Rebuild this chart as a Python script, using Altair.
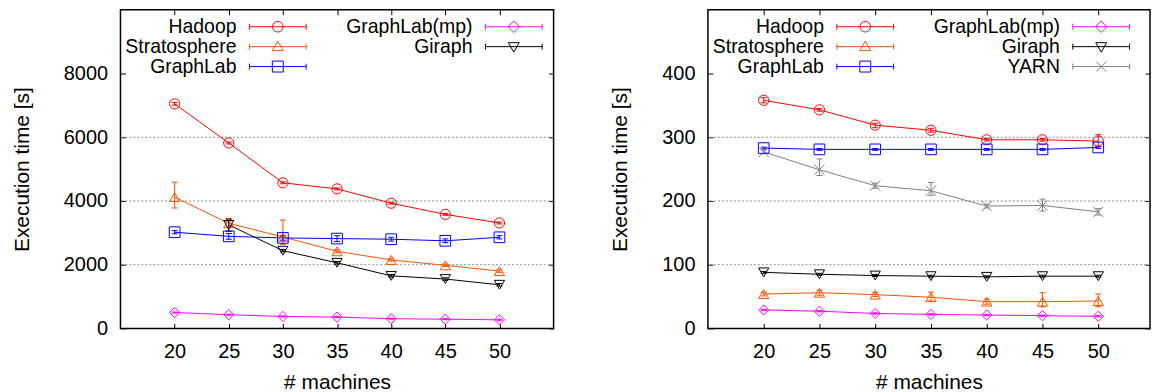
import altair as alt
import pandas as pd

FONT = "Liberation Sans"

machines = [20, 25, 30, 35, 40, 45, 50]
series_left = ["Hadoop", "Stratosphere", "GraphLab", "GraphLab(mp)", "Giraph"]
series_right = ["Hadoop", "Stratosphere", "GraphLab", "GraphLab(mp)", "Giraph", "YARN"]

# ---------------- left panel (execution time, s) ----------------
hadoop_l = [7050, 5820, 4570, 4380, 3930, 3580, 3310]
hadoop_l_lo = [7010, 5790, 4540, 4350, 3900, 3550, 3280]
hadoop_l_hi = [7090, 5850, 4600, 4410, 3960, 3610, 3340]
strat_l = [4120, 3300, 2870, 2420, 2150, 1980, 1800]
strat_l_lo = [3780, 3180, 2640, 2370, 2110, 1940, 1760]
strat_l_hi = [4590, 3450, 3400, 2470, 2190, 2020, 1840]
graphlab_l = [3020, 2890, 2840, 2820, 2800, 2750, 2860]
graphlab_l_lo = [2970, 2800, 2770, 2730, 2740, 2690, 2810]
graphlab_l_hi = [3070, 2980, 2910, 2910, 2860, 2810, 2910]
gmp_l = [500, 430, 375, 355, 305, 290, 270]
gmp_l_lo = [485, 415, 360, 340, 290, 275, 255]
gmp_l_hi = [515, 445, 390, 370, 320, 305, 285]
giraph_l = [None, 3250, 2440, 2060, 1650, 1550, 1370]
giraph_l_lo = [None, 3050, 2400, 2020, 1610, 1510, 1330]
giraph_l_hi = [None, 3430, 2480, 2100, 1690, 1590, 1410]

# ---------------- right panel (execution time, s) ----------------
hadoop_r = [358, 343, 319, 311, 296, 296, 294]
hadoop_r_lo = [354, 341, 315, 308, 294, 294, 285]
hadoop_r_hi = [362, 345, 322, 314, 298, 298, 304]
strat_r = [54, 56, 53, 49, 42, 42, 43]
strat_r_lo = [51, 52, 50, 43, 38, 34, 34]
strat_r_hi = [57, 60, 56, 57, 46, 56, 54]
graphlab_r = [283, 281, 281, 281, 281, 281, 284]
graphlab_r_lo = [281.5, 279.5, 279.5, 279.5, 279.5, 279.5, 282.5]
graphlab_r_hi = [284.5, 282.5, 282.5, 282.5, 282.5, 282.5, 285.5]
gmp_r = [29, 27, 23.5, 22, 21, 20, 19]
gmp_r_lo = [28, 26, 22.5, 21, 20, 19, 18]
gmp_r_hi = [30, 28, 24.5, 23, 22, 21, 20]
giraph_r = [88, 85, 83, 82, 81, 82, 82]
giraph_r_lo = [86.5, 83.5, 81.5, 80.5, 79.5, 80.5, 80.5]
giraph_r_hi = [89.5, 86.5, 84.5, 83.5, 82.5, 83.5, 83.5]
yarn_r = [277, 249, 224, 216, 192, 193, 183]
yarn_r_lo = [274, 240, 220, 209, 189, 184, 178]
yarn_r_hi = [280, 266, 228, 229, 195, 203, 188]

# axis ticks / grid values
yticks_left = [0, 2000, 4000, 6000, 8000]
grid_left = [2000, 4000, 6000]
yticks_right = [0, 100, 200, 300, 400]
grid_right = [100, 200, 300]

# ---------------- styles ----------------
COLORS = {
    "Hadoop": "#ff0000",
    "Stratosphere": "#ff5000",
    "GraphLab": "#0000ff",
    "GraphLab(mp)": "#ff00ff",
    "Giraph": "#000000",
    "YARN": "#808080",
}
MARKERS = {
    "Hadoop": "circle",
    "Stratosphere": "triangle-up",
    "GraphLab": "square",
    "GraphLab(mp)": "diamond",
    "Giraph": "triangle-down",
    "YARN": "M-1,-1L1,1M-1,1L1,-1",
}
CAP_SHAPE = "M-1,0L1,0"


def _legend_path(kind):
    # legend sample (drawn to the right of the label): errorbar-style line + marker
    a, b, c = 2.35, 8.05, 5.2
    p = f"M{a},0L{b},0M{a},-0.3L{a},0.3M{b},-0.3L{b},0.3"
    if kind == "circle":
        r = 0.53
        p += f"M{c + r},0A{r},{r},0,1,1,{c - r},0A{r},{r},0,1,1,{c + r},0Z"
    elif kind == "tri_up":
        p += f"M{c},-0.55L{c + 0.55},0.4L{c - 0.55},0.4Z"
    elif kind == "square":
        p += f"M{c - 0.55},-0.55L{c + 0.55},-0.55L{c + 0.55},0.55L{c - 0.55},0.55Z"
    elif kind == "diamond":
        p += f"M{c},-0.58L{c + 0.58},0L{c},0.58L{c - 0.58},0Z"
    elif kind == "tri_down":
        p += f"M{c},0.55L{c + 0.55},-0.4L{c - 0.55},-0.4Z"
    else:
        p += f"M{c - 0.5},-0.5L{c + 0.5},0.5M{c - 0.5},0.5L{c + 0.5},-0.5"
    return p


LEGEND_PATHS = {
    "Hadoop": _legend_path("circle"),
    "Stratosphere": _legend_path("tri_up"),
    "GraphLab": _legend_path("square"),
    "GraphLab(mp)": _legend_path("diamond"),
    "Giraph": _legend_path("tri_down"),
    "YARN": _legend_path("x"),
}


def table(names, values, los, his):
    rows = []
    for name, v, lo, hi in zip(names, values, los, his):
        for m, a, b, c in zip(machines, v, lo, hi):
            if a is None:
                continue
            rows.append({"machines": m, "series": name, "time": a, "lo": b, "hi": c})
    return pd.DataFrame(rows)


df_left = table(
    series_left,
    [hadoop_l, strat_l, graphlab_l, gmp_l, giraph_l],
    [hadoop_l_lo, strat_l_lo, graphlab_l_lo, gmp_l_lo, giraph_l_lo],
    [hadoop_l_hi, strat_l_hi, graphlab_l_hi, gmp_l_hi, giraph_l_hi],
)
df_right = table(
    series_right,
    [hadoop_r, strat_r, graphlab_r, gmp_r, giraph_r, yarn_r],
    [hadoop_r_lo, strat_r_lo, graphlab_r_lo, gmp_r_lo, giraph_r_lo, yarn_r_lo],
    [hadoop_r_hi, strat_r_hi, graphlab_r_hi, gmp_r_hi, giraph_r_hi, yarn_r_hi],
)


def panel(df, series, ymax, yticks, grid_vals, width, xmax):
    x_scale = alt.Scale(domain=[15, xmax], nice=False, zero=False)
    y_scale = alt.Scale(domain=[0, ymax], nice=False, zero=False)
    color_scale = alt.Scale(domain=series, range=[COLORS[s] for s in series])
    shape_scale = alt.Scale(domain=series, range=[LEGEND_PATHS[s] for s in series])

    common_axis = dict(offset=-5, tickSize=5, tickColor="black", tickWidth=1,
                       domain=False, grid=False)
    x_bottom = alt.Axis(orient="bottom", values=machines, labelFontSize=20, labelFont=FONT,
                        labelColor="black", labelPadding=13, title="# machines",
                        titleFont=FONT, titleFontSize=21, titleFontWeight="normal",
                        titleColor="black", titlePadding=10, **common_axis)
    x_top = alt.Axis(orient="top", values=machines, labels=False, title=None, **common_axis)
    y_left = alt.Axis(orient="left", values=yticks, format="d", labelFontSize=20,
                      labelFont=FONT, labelColor="black", labelPadding=13,
                      title="Execution time [s]", titleFont=FONT, titleFontSize=21,
                      titleFontWeight="normal", titleColor="black", titlePadding=31,
                      **common_axis)
    y_right = alt.Axis(orient="right", values=yticks, labels=False, title=None, **common_axis)

    color_nolegend = alt.Color("series:N", scale=color_scale, legend=None)

    def X(ax=None):
        return alt.X("machines:Q", scale=x_scale, axis=ax)

    base = alt.Chart(df)

    legend = alt.Legend(
        title=None, orient="none", legendX=95.5, legendY=6.5, direction="vertical",
        columns=2, columnPadding=38, rowPadding=0, padding=0,
        labelAlign="right", labelBaseline="middle", labelOffset=0,
        labelFontSize=19.5, labelFont=FONT, labelColor="black", labelLimit=300,
        symbolSize=400, symbolOffset=0, symbolStrokeWidth=1,
        symbolFillColor="transparent",
    )
    # first layer: carries the legend (draws no data marks of its own)
    legend_src = base.transform_filter("false").mark_point(
        filled=False, opacity=1, strokeWidth=1
    ).encode(
        x=X(),
        y=alt.Y("time:Q", scale=y_scale, axis=None),
        color=alt.Color("series:N", scale=color_scale, legend=legend),
        shape=alt.Shape("series:N", scale=shape_scale, legend=legend),
    )

    grid = alt.Chart(pd.DataFrame({"g": grid_vals})).mark_rule(
        color="#8a8a8a", strokeDash=[2, 2], strokeWidth=1
    ).encode(y=alt.Y("g:Q", scale=y_scale, axis=None))

    lines = base.mark_line(strokeWidth=1).encode(
        x=X(x_bottom),
        y=alt.Y("time:Q", scale=y_scale, axis=y_left),
        color=color_nolegend,
    )

    err = base.mark_rule(strokeWidth=1, opacity=1).encode(
        x=X(x_top),
        y=alt.Y("lo:Q", scale=y_scale, axis=y_right),
        y2="hi:Q",
        color=color_nolegend,
    )

    cap_lo = base.mark_point(shape=CAP_SHAPE, size=36, filled=False, strokeWidth=1,
                             opacity=1).encode(
        x=X(), y=alt.Y("lo:Q", scale=y_scale, axis=None), color=color_nolegend)
    cap_hi = base.mark_point(shape=CAP_SHAPE, size=36, filled=False, strokeWidth=1,
                             opacity=1).encode(
        x=X(), y=alt.Y("hi:Q", scale=y_scale, axis=None), color=color_nolegend)

    layers = [legend_src, grid, lines, err, cap_lo, cap_hi]
    for s in series:
        size = 115 if MARKERS[s] == "square" else 105
        layers.append(
            base.transform_filter(alt.datum.series == s)
            .mark_point(shape=MARKERS[s], size=size, filled=False, strokeWidth=1, opacity=1)
            .encode(x=X(), y=alt.Y("time:Q", scale=y_scale, axis=None), color=color_nolegend)
        )

    return alt.layer(*layers).resolve_axis(x="independent", y="independent").properties(
        width=width, height=320
    )


left = panel(df_left, series_left, 10000, yticks_left, grid_left, 435, 55)
right = panel(df_right, series_right, 500, yticks_right, grid_right, 444, 54.64)

chart = (
    alt.hconcat(left, right, spacing=53)
    .resolve_scale(x="independent", y="independent", color="independent", shape="independent")
    .resolve_legend(color="independent", shape="independent")
    .properties(padding={"left": 10, "top": 7, "right": 0, "bottom": 0}, background="white")
    .configure_view(stroke="black", strokeWidth=1.5)
)

chart.save("out.html", embed_options={"renderer": "svg", "actions": False})
